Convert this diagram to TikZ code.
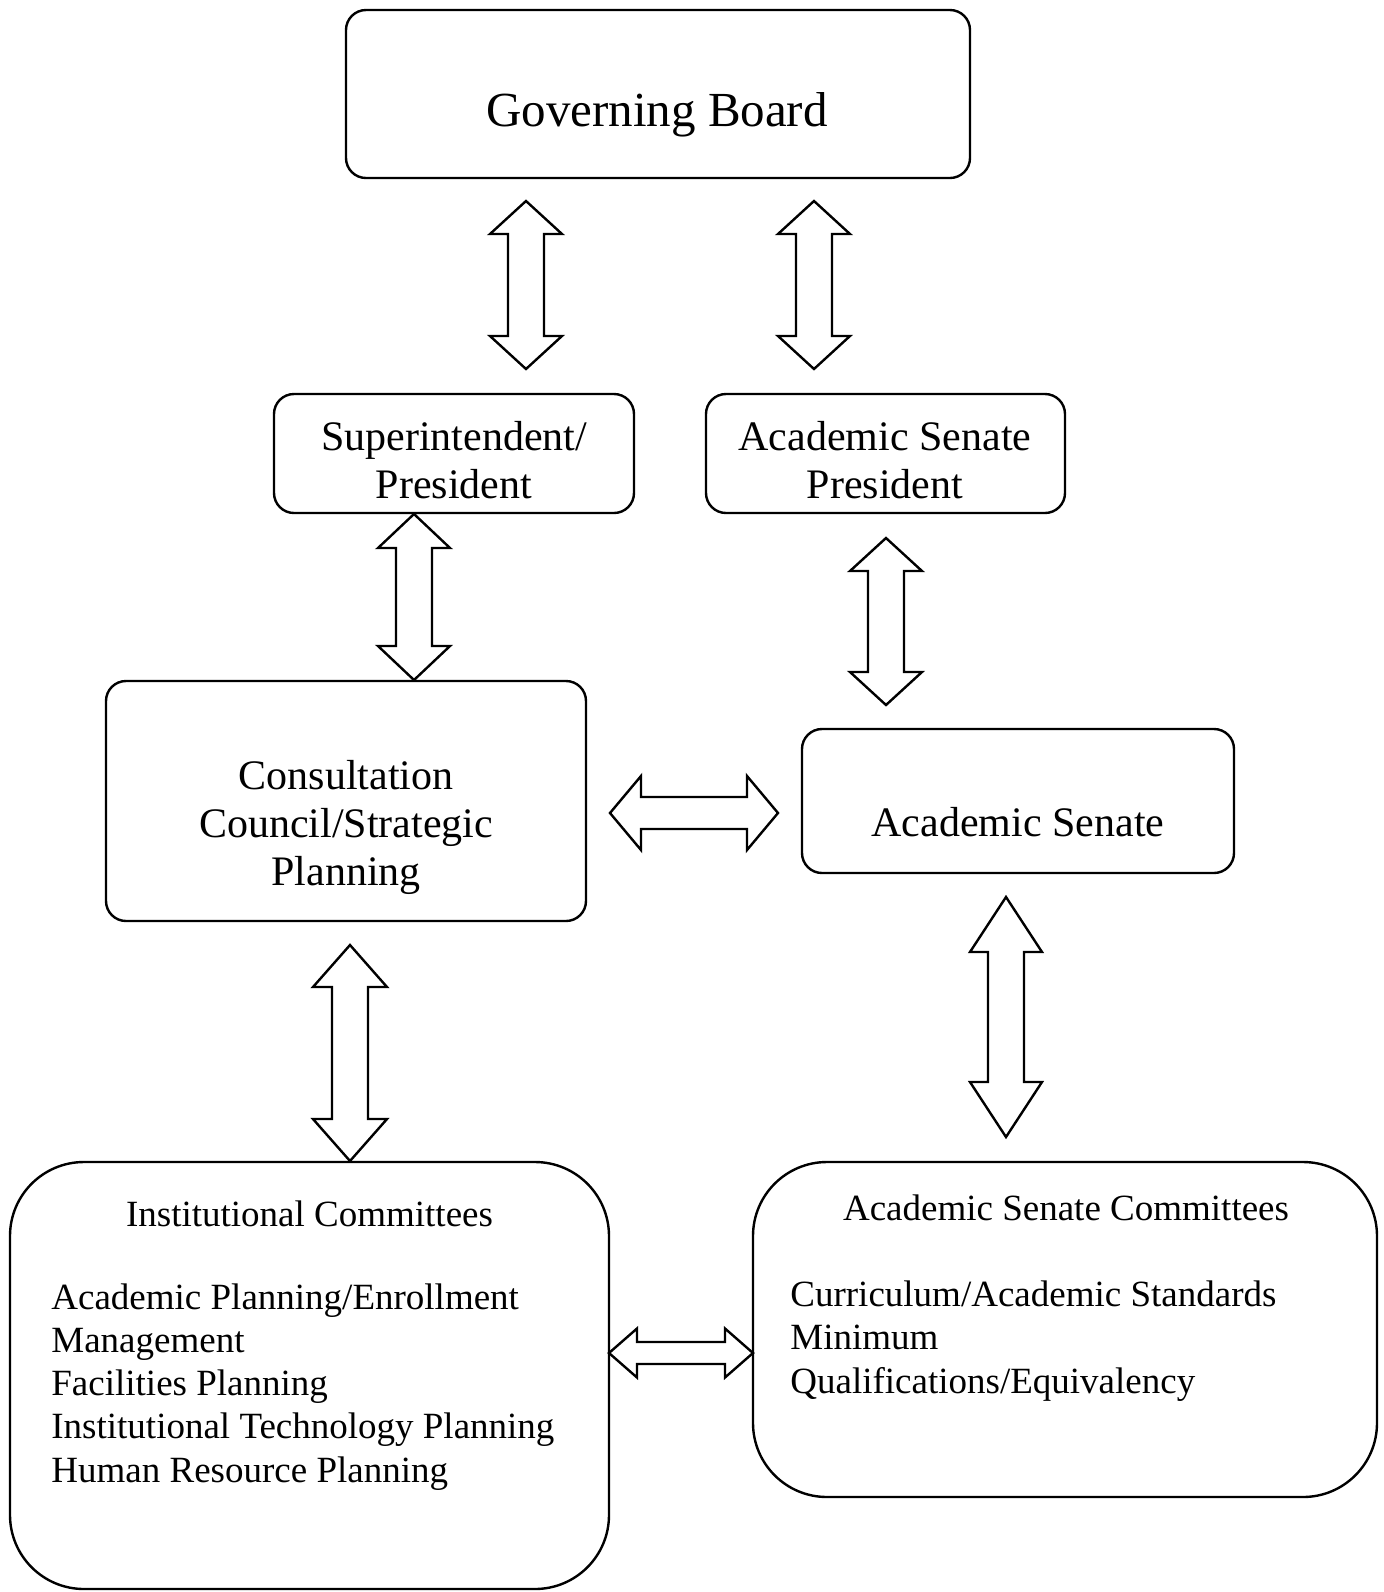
\documentclass[tikz,border=0pt]{standalone}
\usepackage{fontspec}
\setmainfont{Liberation Serif}
\usetikzlibrary{calc,fit}
\tikzset{
  boxs/.style={draw, line width=1.2pt, rounded corners=10pt, inner sep=0pt},
  boxl/.style={draw, line width=1.2pt, rounded corners=37pt, inner sep=0pt},
  barrow/.style={draw, line width=1.2pt, line join=miter, fill=white},
  big/.style={font=\fontsize{24.5pt}{28pt}\selectfont, inner sep=0pt},
  mid/.style={font=\fontsize{21pt}{24pt}\selectfont, inner sep=0pt, align=center},
  sml/.style={font=\fontsize{18.5pt}{21.6pt}\selectfont, inner sep=0pt, align=left},
}
% vertical double block arrow: #1 top tip, #2 bottom tip, #3 head length, #4 half head width, #5 half shaft width (px)
\newcommand\vdarrow[5]{%
  \draw[barrow] let \p1=(#1), \p2=(#2) in
    (\x1,\y1) -- (\x1+#4*0.5pt,\y1-#3*0.5pt) -- (\x1+#5*0.5pt,\y1-#3*0.5pt)
    -- (\x1+#5*0.5pt,\y2+#3*0.5pt) -- (\x1+#4*0.5pt,\y2+#3*0.5pt) -- (\x2,\y2)
    -- (\x1-#4*0.5pt,\y2+#3*0.5pt) -- (\x1-#5*0.5pt,\y2+#3*0.5pt)
    -- (\x1-#5*0.5pt,\y1-#3*0.5pt) -- (\x1-#4*0.5pt,\y1-#3*0.5pt) -- cycle;}
% horizontal double block arrow: #1 left tip, #2 right tip
\newcommand\hdarrow[5]{%
  \draw[barrow] let \p1=(#1), \p2=(#2) in
    (\x1,\y1) -- (\x1+#3*0.5pt,\y1+#4*0.5pt) -- (\x1+#3*0.5pt,\y1+#5*0.5pt)
    -- (\x2-#3*0.5pt,\y1+#5*0.5pt) -- (\x2-#3*0.5pt,\y1+#4*0.5pt) -- (\x2,\y2)
    -- (\x2-#3*0.5pt,\y1-#4*0.5pt) -- (\x2-#3*0.5pt,\y1-#5*0.5pt)
    -- (\x1+#3*0.5pt,\y1-#5*0.5pt) -- (\x1+#3*0.5pt,\y1-#4*0.5pt) -- cycle;}
\begin{document}
\begin{tikzpicture}[x=0.5pt, y=-0.5pt]
\useasboundingbox[fill=white] (0,0) rectangle (1384,1592);

% boxes
\node[boxs, fit={(346,10) (970,178)}] (gb) {};
\node[boxs, fit={(274,394) (634,513)}] (sp) {};
\node[boxs, fit={(706,394) (1065,513)}] (asp) {};
\node[boxs, fit={(106,681) (586,921)}] (cc) {};
\node[boxs, fit={(802,729) (1234,873)}] (as) {};
\node[boxl, fit={(10,1162) (609,1589)}] (ic) {};
\node[boxl, fit={(753,1162) (1377,1497)}] (asc) {};

% texts (base anchor = baseline of the last line)
\node[big, anchor=base] (gbt) at (657,126) {Governing Board};
\node[mid, anchor=base] (spt) at (454,498) {Superintendent/\\President};
\node[mid, anchor=base] (aspt) at (885,498) {Academic Senate\\President};
\node[mid, anchor=base] (cct) at (346,885) {Consultation\\Council/Strategic\\Planning};
\node[mid, anchor=base] (ast) at (1018,836) {Academic Senate};
\node[sml, anchor=base] (ich) at (309.5,1226) {Institutional Committees};
\node[sml, anchor=base west] (icl) at (51,1482) {Academic Planning/Enrollment\\Management\\Facilities Planning\\Institutional Technology Planning\\Human Resource Planning};
\node[sml, anchor=base] (asch) at (1066,1220) {Academic Senate Committees};
\node[sml, anchor=base west] (ascl) at (790,1393) {Curriculum/Academic Standards\\Minimum\\Qualifications/Equivalency};

% arrow end points
\coordinate (a1t) at (526,201);  \coordinate (a1b) at (526,369);
\coordinate (a2t) at (814,201);  \coordinate (a2b) at (814,369);
\coordinate (a3t) at (414,514);  \coordinate (a3b) at (414,680);
\coordinate (a4t) at (886,538);  \coordinate (a4b) at (886,705);
\coordinate (a5l) at (610,813);  \coordinate (a5r) at (778,813);
\coordinate (a6t) at (350,945);  \coordinate (a6b) at (350,1161);
\coordinate (a7t) at (1006,897); \coordinate (a7b) at (1006,1137);
\coordinate (a8l) at (609,1353); \coordinate (a8r) at (753,1353);

\vdarrow{a1t}{a1b}{33}{36}{18}
\vdarrow{a2t}{a2b}{33}{36}{18}
\vdarrow{a3t}{a3b}{34}{36}{18}
\vdarrow{a4t}{a4b}{33}{36}{18}
\hdarrow{a5l}{a5r}{31}{37}{16}
\vdarrow{a6t}{a6b}{42}{37}{18}
\vdarrow{a7t}{a7b}{55}{36}{18}
\hdarrow{a8l}{a8r}{28}{24.5}{11}
\end{tikzpicture}
\end{document}
